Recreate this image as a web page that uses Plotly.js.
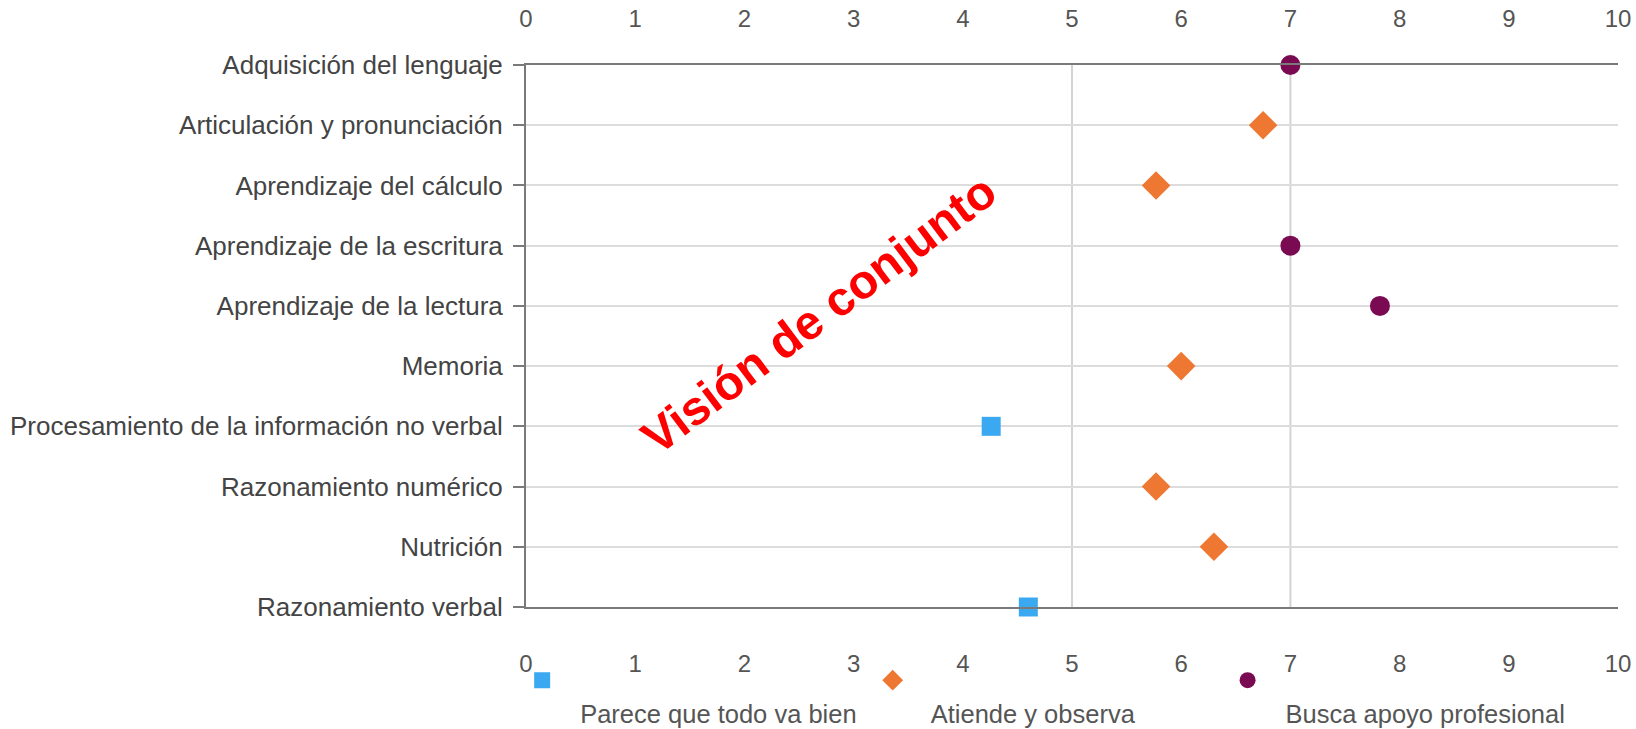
<!DOCTYPE html>
<html>
<head>
<meta charset="utf-8">
<script src="https://cdn.plot.ly/plotly-3.0.1.min.js"></script>
<style>
  html, body { margin: 0; padding: 0; background: #ffffff; }
  #chart { width: 1636px; height: 729px; }
</style>
</head>
<body>
<div id="chart"></div>
<script>
// ---- data ----
const categories = [
  "Adquisición del lenguaje",
  "Articulación y pronunciación",
  "Aprendizaje del cálculo",
  "Aprendizaje de la escritura",
  "Aprendizaje de la lectura",
  "Memoria",
  "Procesamiento de la información no verbal",
  "Razonamiento numérico",
  "Nutrición",
  "Razonamiento verbal"
];

const seriesNames = ["Parece que todo va bien", "Atiende y observa", "Busca apoyo profesional"];

const bienCategories = ["Procesamiento de la información no verbal", "Razonamiento verbal"];
const bienValues = [4.26, 4.6];

const atiendeCategories = ["Articulación y pronunciación", "Aprendizaje del cálculo", "Memoria", "Razonamiento numérico", "Nutrición"];
const atiendeValues = [6.75, 5.77, 6.0, 5.77, 6.3];

const apoyoCategories = ["Adquisición del lenguaje", "Aprendizaje de la escritura", "Aprendizaje de la lectura"];
const apoyoValues = [7.0, 7.0, 7.82];

const xTicks = [0, 1, 2, 3, 4, 5, 6, 7, 8, 9, 10];
const referenceLines = [5, 7];
const watermarkText = "Visión de conjunto";

// ---- styles ----
const FONT = "Liberation Sans, Arial, Helvetica, sans-serif";
const colBien = "#3aa9f1";
const colAtiende = "#ee7732";
const colApoyo = "#7a0a52";
const legendFont = { family: FONT, size: 25.5, color: "#555555" };

function legendName(name) { return "&nbsp;<br>" + name; }

const traces = [
  {
    type: "scatter", mode: "markers", name: legendName(seriesNames[0]),
    x: bienValues, y: bienCategories, cliponaxis: false, legend: "legend",
    marker: { symbol: "square", size: 19, color: colBien },
    hoverinfo: "x+y"
  },
  {
    type: "scatter", mode: "markers", name: legendName(seriesNames[1]),
    x: atiendeValues, y: atiendeCategories, cliponaxis: false, legend: "legend2",
    marker: { symbol: "diamond", size: 22, color: colAtiende },
    hoverinfo: "x+y"
  },
  {
    type: "scatter", mode: "markers", name: legendName(seriesNames[2]),
    x: apoyoValues, y: apoyoCategories, cliponaxis: false, legend: "legend3",
    marker: { symbol: "circle", size: 20, color: colApoyo },
    hoverinfo: "x+y"
  },
  {
    // invisible helper so the top axis is drawn
    type: "scatter", mode: "markers", xaxis: "x2", yaxis: "y",
    x: apoyoValues, y: apoyoCategories, showlegend: false, hoverinfo: "skip",
    marker: { opacity: 0, size: 1 }
  }
];

const shapes = referenceLines.map(v => ({
  type: "line", xref: "x", yref: "paper", x0: v, x1: v, y0: 0, y1: 1,
  layer: "below", line: { color: "#d3d3d3", width: 2 }
}));

const tickFont = { family: FONT, size: 24, color: "#555555" };

function legendBox(x) {
  return {
    orientation: "h", x: x, xanchor: "left", y: -0.0925, yanchor: "top",
    valign: "top", itemwidth: 66, font: legendFont,
    bgcolor: "rgba(0,0,0,0)", itemclick: false, itemdoubleclick: false
  };
}

const layout = {
  width: 1636, height: 729,
  margin: { l: 526, r: 18, t: 65, b: 122, autoexpand: false },
  paper_bgcolor: "#ffffff", plot_bgcolor: "#ffffff",
  font: { family: FONT },
  showlegend: true,
  xaxis: {
    range: [0, 10], tickvals: xTicks, ticktext: xTicks.map(String),
    showgrid: false, zeroline: false, ticks: "",
    showline: true, mirror: true, linecolor: "#7a7a7a", linewidth: 2,
    tickfont: tickFont, ticklabelstandoff: 34, fixedrange: true
  },
  xaxis2: {
    overlaying: "x", side: "top", matches: "x", range: [0, 10],
    tickvals: xTicks, ticktext: xTicks.map(String),
    showgrid: false, zeroline: false, ticks: "", showline: false,
    tickfont: tickFont, ticklabelstandoff: 32, fixedrange: true
  },
  yaxis: {
    type: "category", categoryorder: "array", categoryarray: categories,
    range: [categories.length - 1, 0],
    showgrid: true, gridcolor: "#dcdcdc", gridwidth: 2,
    zeroline: false, showline: true, linecolor: "#7a7a7a", linewidth: 2,
    ticks: "outside", ticklen: 11, tickwidth: 2, tickcolor: "#7a7a7a",
    ticklabelstandoff: 5,
    tickfont: { family: FONT, size: 26, color: "#444444" }, fixedrange: true
  },
  legend: legendBox(-0.020),
  legend2: legendBox(0.301),
  legend3: legendBox(0.626),
  shapes: shapes,
  annotations: [{
    text: "<b>" + watermarkText + "</b>", xref: "paper", yref: "paper",
    x: 0.268, y: 0.539, xanchor: "center", yanchor: "middle",
    textangle: -37, showarrow: false,
    font: { family: FONT, size: 48, color: "#ff0000" }
  }]
};

Plotly.newPlot("chart", traces, layout, { displayModeBar: false, staticPlot: true });
</script>
</body>
</html>
